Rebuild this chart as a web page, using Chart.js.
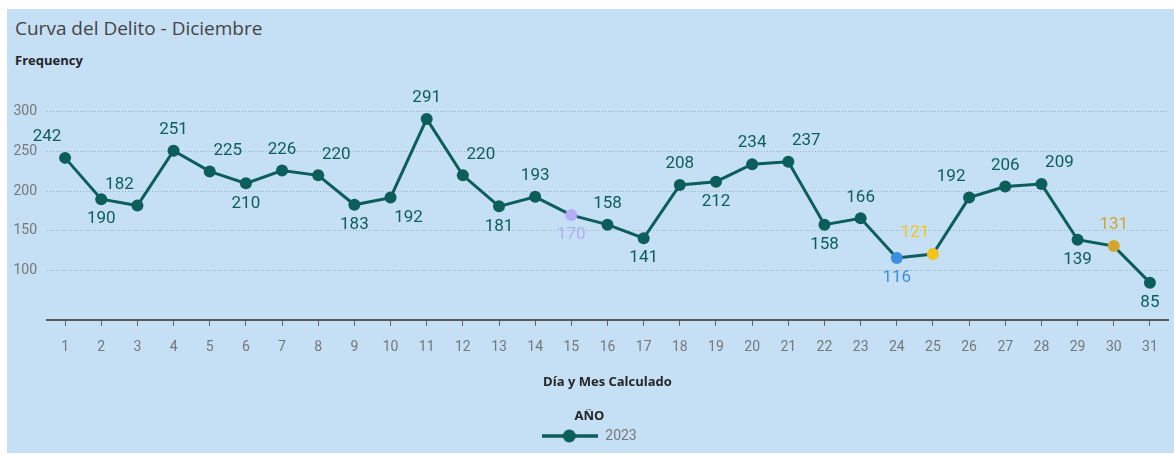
<!DOCTYPE html>
<html>
<head>
<meta charset="utf-8">
<script src="https://cdn.jsdelivr.net/npm/chart.js@4.4.1/dist/chart.umd.min.js"></script>
<style>
  body { margin: 0; background: #fff; }
  #wrap { position: absolute; left: 7px; top: 9px; width: 1167px; height: 444px; background: #c5dff5; overflow: hidden; }
  #titulo { position: absolute; left: 8px; top: 6px; font: 400 19px 'Open Sans', sans-serif; color: #444; }
  #freq { position: absolute; left: 8px; top: 42px; font: 700 13px 'Open Sans', sans-serif; color: #252525; }
  canvas { position: absolute; left: 0; top: 0; }
</style>
</head>
<body>
<div id="wrap">
  <div id="titulo">Curva del Delito - Diciembre</div>
  <div id="freq">Frequency</div>
  <canvas id="chart" width="1167" height="444"></canvas>
</div>
<script>
// datos del grafico
const dias = ['1','2','3','4','5','6','7','8','9','10','11','12','13','14','15','16','17','18','19','20','21','22','23','24','25','26','27','28','29','30','31'];
const valores2023 = [242,190,182,251,225,210,226,220,183,192,291,220,181,193,170,158,141,208,212,234,237,158,166,116,121,192,206,209,139,131,85];
const yTicks = [100,150,200,250,300];

// estilo: colores de punto y posicion de etiqueta (t = arriba, b = abajo, l/r = corrida)
const teal = '#0c5e5a';
const colorPunto = dias.map(d => teal);
colorPunto[14] = '#b3acf6';
colorPunto[23] = '#3c8fe0';
colorPunto[24] = '#f5c41c';
colorPunto[29] = '#d3a530';
const posEtiqueta = ['tl','b','tl','t','tr','b','t','tr','b','br','t','tr','b','t','b','t','b','t','b','t','tr','b','t','b','tl','tl','t','tr','b','t','b'];

// icono de leyenda: linea con circulo
const icono = document.createElement('canvas');
icono.width = 56; icono.height = 14;
const ic = icono.getContext('2d');
ic.strokeStyle = teal; ic.lineWidth = 3.5;
ic.beginPath(); ic.moveTo(0, 7); ic.lineTo(56, 7); ic.stroke();
ic.fillStyle = teal;
ic.beginPath(); ic.arc(27, 7, 6.5, 0, Math.PI * 2); ic.fill();

const etiquetas = {
    id: 'etiquetas',
    afterDatasetsDraw(chart) {
        const ctx = chart.ctx;
        const meta = chart.getDatasetMeta(0);
        ctx.save();
        ctx.font = '17px Roboto';
        ctx.textAlign = 'center';
        ctx.textBaseline = 'middle';
        meta.data.forEach((pt, i) => {
            const pos = posEtiqueta[i];
            let dx = 0;
            if (pos.includes('l')) dx = -18;
            if (pos.includes('r')) dx = 18;
            const dy = pos[0] === 't' ? -21 : 20;
            ctx.fillStyle = colorPunto[i];
            ctx.fillText(valores2023[i], pt.x + dx, pt.y + dy);
        });
        ctx.restore();
    }
};

const chart = new Chart(document.querySelector('#chart').getContext('2d'), {
    type: 'line',
    data: {
        labels: dias,
        datasets: [{
            label: '2023',
            data: valores2023,
            borderColor: teal,
            borderWidth: 3,
            pointStyle: 'circle',
            pointRadius: 6,
            pointHoverRadius: 6,
            pointBackgroundColor: colorPunto,
            pointBorderColor: colorPunto,
            pointBorderWidth: 0,
            tension: 0
        }]
    },
    options: {
        responsive: false,
        animation: false,
        devicePixelRatio: 1,
        layout: { padding: { top: 71, right: 2, left: 0, bottom: 0 } },
        scales: {
            x: {
                offset: true,
                grid: { drawOnChartArea: false, drawTicks: true, tickLength: 6, color: '#666', offset: false },
                border: { display: true, color: '#5a5a5a', width: 2 },
                ticks: { color: '#777', font: { family: 'Roboto', size: 14 }, padding: 13, maxRotation: 0, autoSkip: false },
                title: { display: true, text: 'Día y Mes Calculado', color: '#252525', font: { family: 'Open Sans', size: 13, weight: 'bold' }, padding: { top: 6, bottom: 19 } }
            },
            y: {
                min: 38,
                max: 340,
                afterBuildTicks: s => { s.ticks = yTicks.map(v => ({ value: v })); },
                afterFit: s => { s.width = 40; },
                grid: { drawTicks: false, color: 'rgba(130,140,150,0.6)', lineWidth: 1 },
                border: { display: false, dash: [1, 2] },
                ticks: { color: '#777', font: { family: 'Roboto', size: 14 }, padding: 10 }
            }
        },
        plugins: {
            legend: {
                position: 'bottom',
                labels: {
                    usePointStyle: true,
                    pointStyleWidth: 56,
                    boxHeight: 14,
                    generateLabels: () => [{ text: '2023', pointStyle: icono, fontColor: '#777', datasetIndex: 0 }],
                    color: '#777',
                    font: { family: 'Roboto', size: 14 },
                    padding: 4
                },
                title: { display: true, text: 'AÑO', color: '#252525', font: { family: 'Open Sans', size: 13, weight: 'bold' }, padding: 0 }
            },
            tooltip: { enabled: false }
        }
    },
    plugins: [etiquetas]
});
</script>
</body>
</html>
